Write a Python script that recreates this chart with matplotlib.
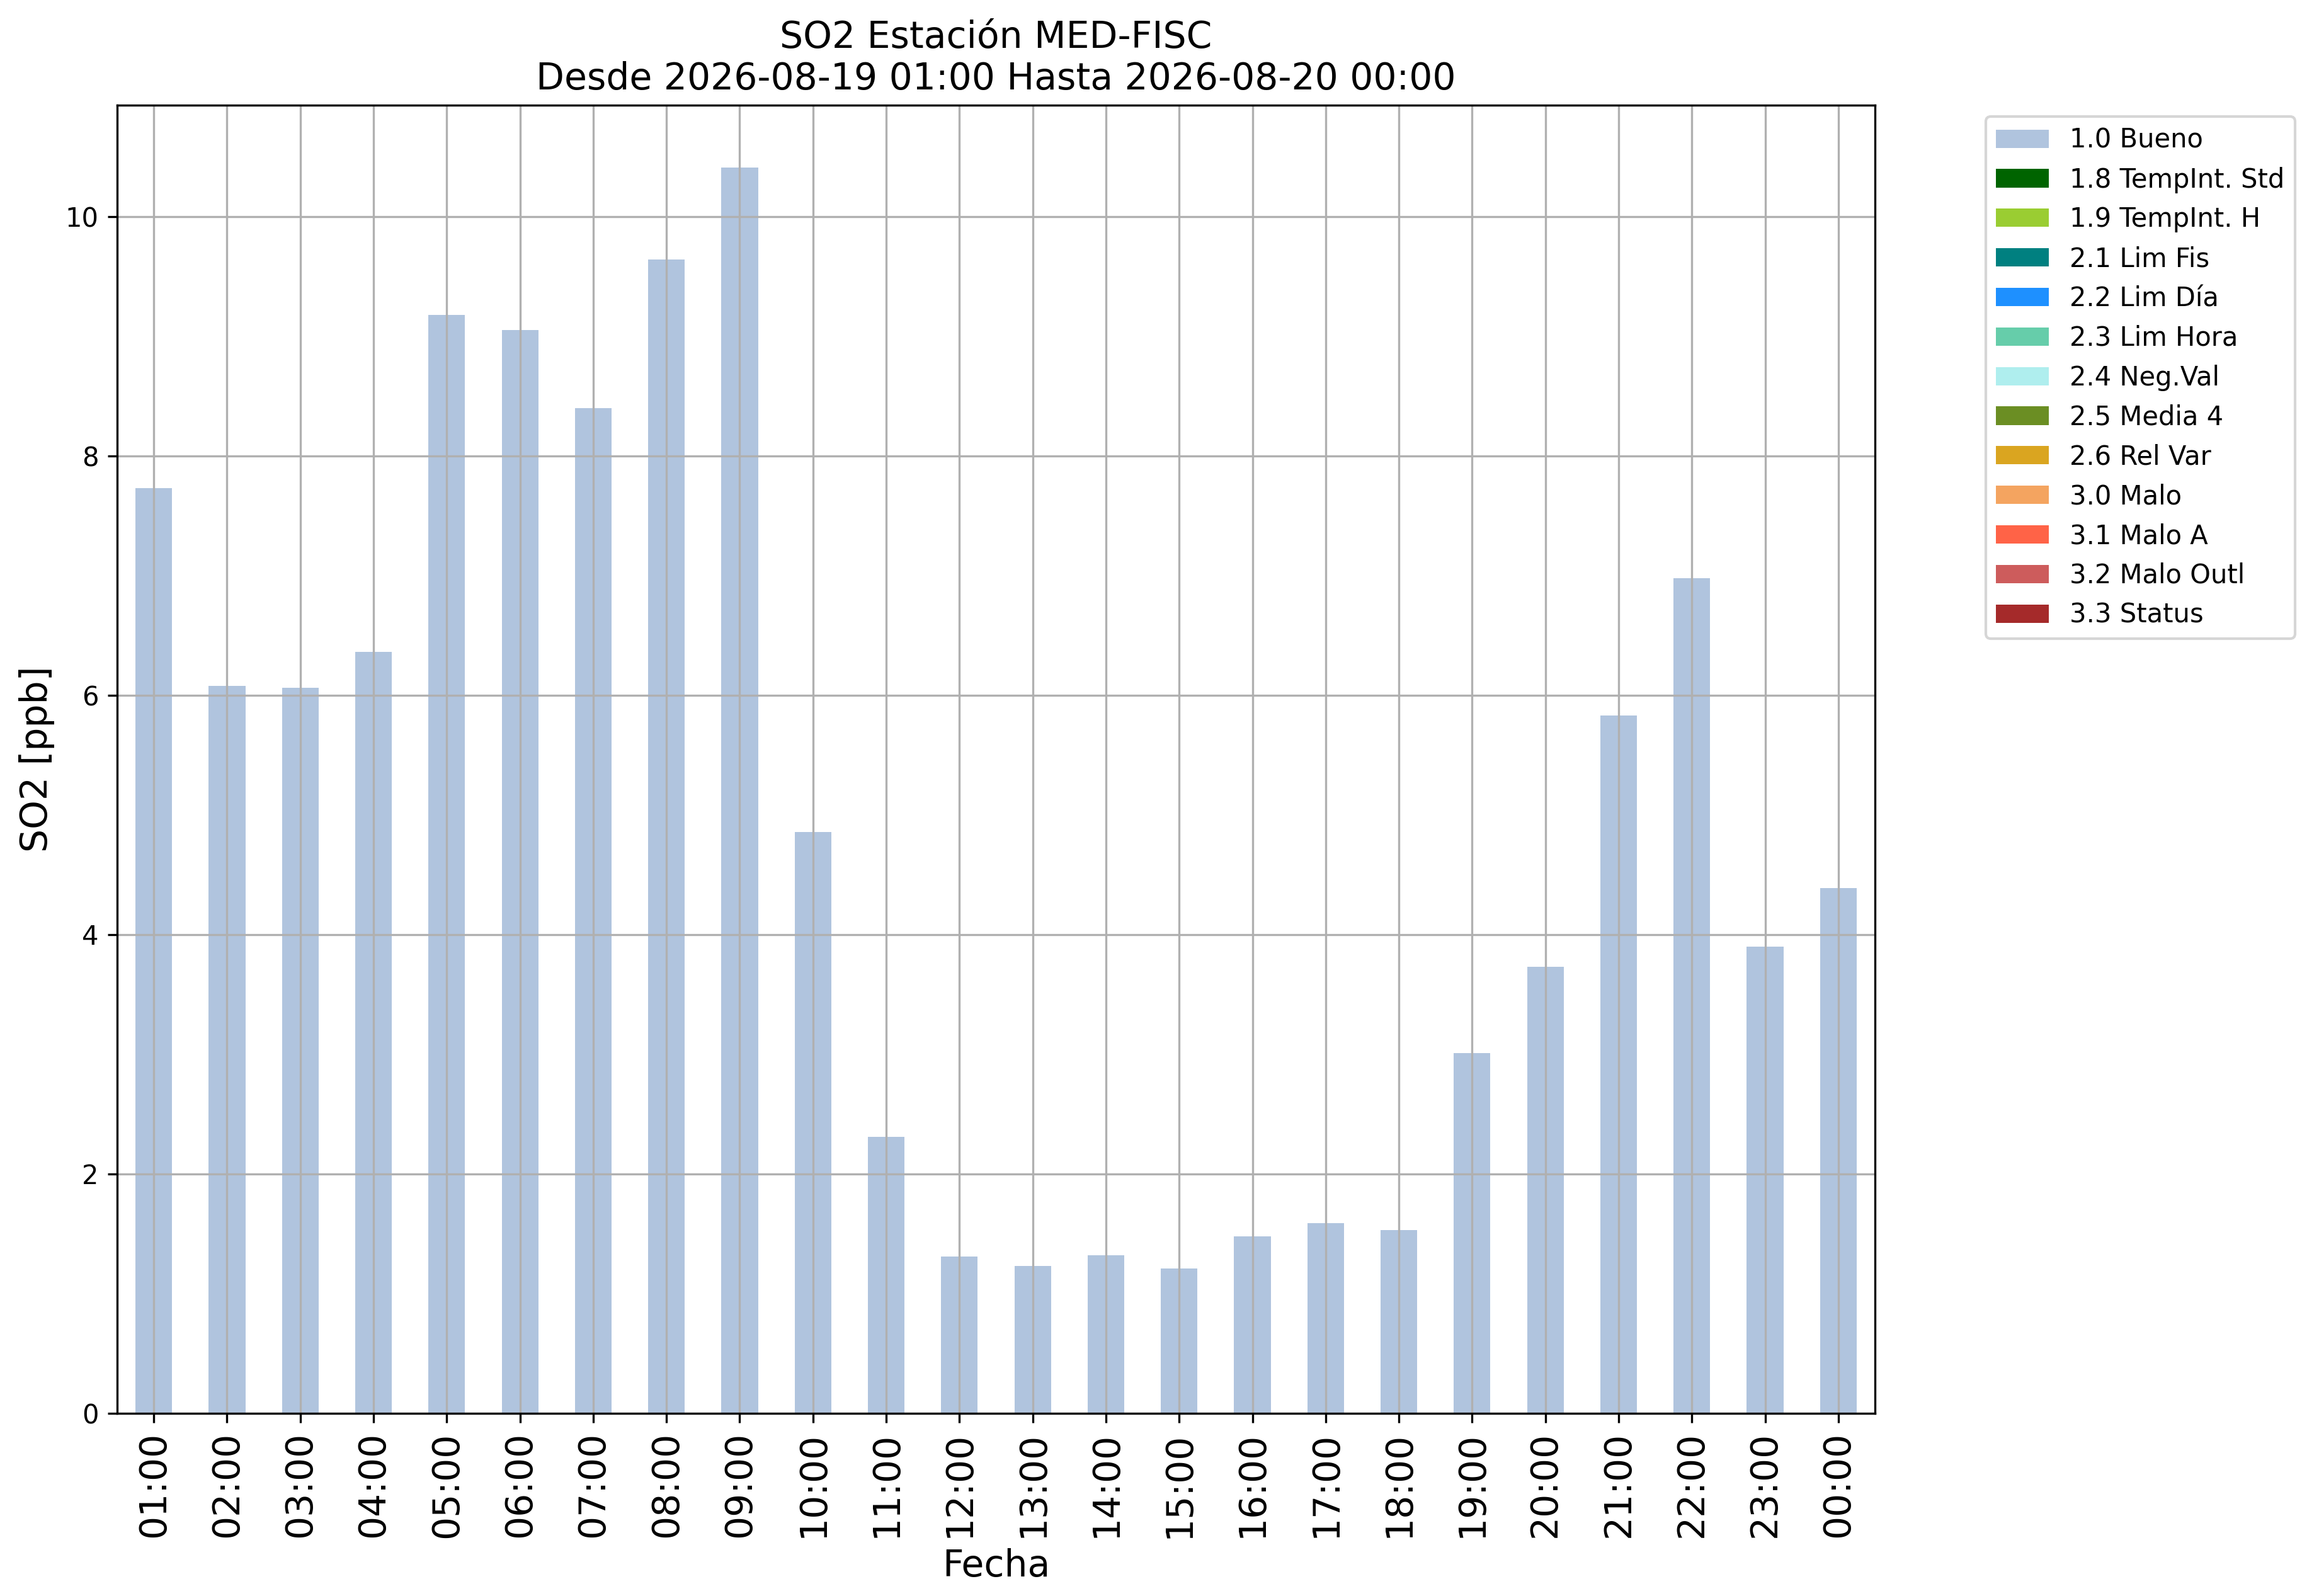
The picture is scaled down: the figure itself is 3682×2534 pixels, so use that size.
import matplotlib
matplotlib.use("Agg")
import matplotlib.pyplot as plt
from matplotlib.patches import Patch

hours = ["01:00", "02:00", "03:00", "04:00", "05:00", "06:00", "07:00", "08:00",
         "09:00", "10:00", "11:00", "12:00", "13:00", "14:00", "15:00", "16:00",
         "17:00", "18:00", "19:00", "20:00", "21:00", "22:00", "23:00", "00:00"]
so2 = [7.73, 6.08, 6.06, 6.36, 9.18, 9.05, 8.40, 9.64,
       10.41, 4.86, 2.31, 1.31, 1.23, 1.32, 1.21, 1.48,
       1.59, 1.53, 3.01, 3.73, 5.83, 6.98, 3.90, 4.39]

flag_labels = ["1.0 Bueno", "1.8 TempInt. Std", "1.9 TempInt. H", "2.1 Lim Fis",
               "2.2 Lim Día", "2.3 Lim Hora", "2.4 Neg.Val", "2.5 Media 4",
               "2.6 Rel Var", "3.0 Malo", "3.1 Malo A", "3.2 Malo Outl", "3.3 Status"]
flag_colors = ["lightsteelblue", "darkgreen", "yellowgreen", "teal",
               "dodgerblue", "mediumaquamarine", "paleturquoise", "olivedrab",
               "goldenrod", "sandybrown", "tomato", "indianred", "brown"]

title = "SO2 Estación MED-FISC\nDesde 2026-08-19 01:00 Hasta 2026-08-20 00:00"

fig = plt.figure(figsize=(3682 / 300, 2534 / 300), dpi=300)
ax = fig.add_axes([186 / 3682, 1 - 2244 / 2534, (2977 - 186) / 3682, (2244 - 167) / 2534])

x = list(range(len(hours)))
ax.bar(x, so2, width=0.5, color=flag_colors[0])
ax.set_xlim(-0.5, len(hours) - 0.5)
ax.set_xticks(x)
ax.set_xticklabels(hours, rotation=90, fontsize=14)
ax.tick_params(axis="y", labelsize=10)
ax.grid(True)
ax.set_xlabel("Fecha", fontsize=14)
ax.set_ylabel("SO2 [ppb]", fontsize=14)
ax.set_title(title, fontsize=14)

handles = [Patch(facecolor=c, label=l) for c, l in zip(flag_colors, flag_labels)]
ax.legend(handles=handles, loc="upper left", bbox_to_anchor=(1.063, 0.9913),
          borderaxespad=0, fontsize=10)

fig.savefig("out.png", dpi=300)
